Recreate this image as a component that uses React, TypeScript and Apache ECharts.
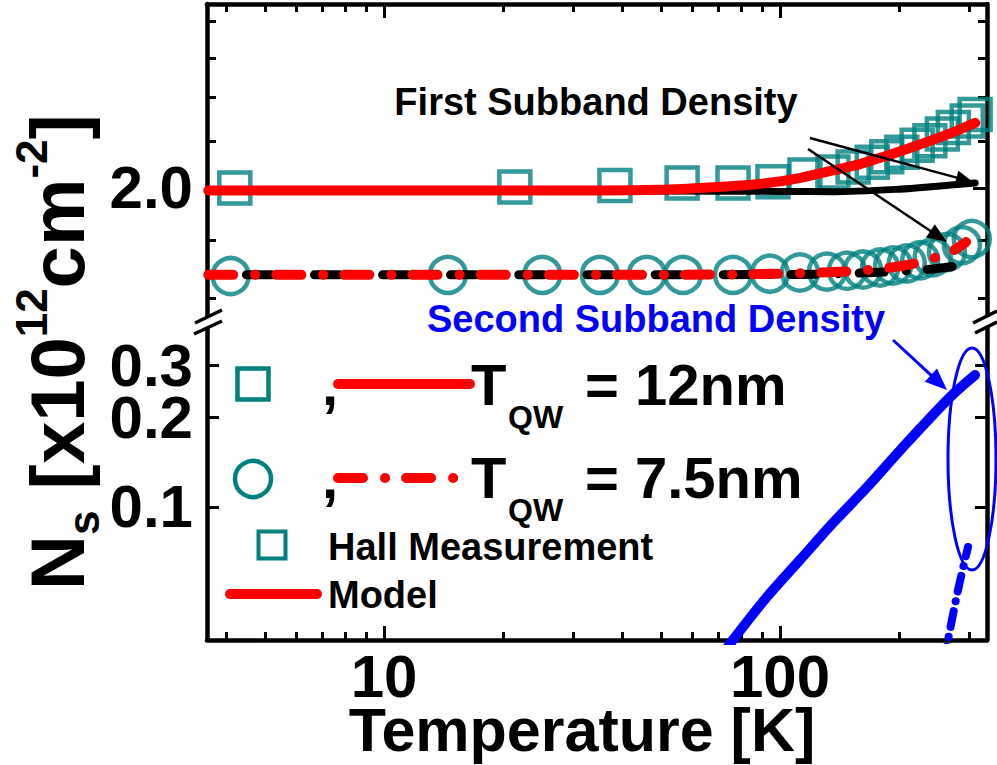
import React, { useEffect, useRef } from 'react';
import * as echarts from 'echarts';

const FONT = '"Liberation Sans", Arial, Helvetica, sans-serif';
const TEAL = '#008080';
const RED = '#ff0000';
const BLUE = '#0000ff';

// ---- Hall measurement, T_QW = 12 nm (squares) ----
const hallT12 = [4.2, 21.4, 38.3, 56.6, 76.1, 96, 115.6, 136, 153, 171, 186, 203, 222, 239, 257, 274, 297, 311];
const hallN12 = [2.0, 2.004, 2.01, 2.02, 2.02, 2.025, 2.053, 2.065, 2.086, 2.107, 2.13, 2.15, 2.18, 2.2, 2.23, 2.26, 2.29, 2.32];

// ---- Hall measurement, T_QW = 7.5 nm (circles) ----
const hallT75 = [4.1, 14.5, 25.1, 35.1, 46.1, 56.9, 76.1, 94.3, 112.3, 131.4, 147.6, 162, 179, 193, 209, 226, 243, 264, 288, 305];
const hallN75 = [1.674, 1.678, 1.678, 1.678, 1.678, 1.678, 1.678, 1.682, 1.686, 1.689, 1.692, 1.696, 1.703, 1.71, 1.717, 1.728, 1.739, 1.757, 1.782, 1.804];

// ---- Model, 12 nm total (red solid) ----
const modelT12 = [3.6, 10, 20, 35, 50, 63, 80, 93, 110, 136, 160, 182, 210, 243, 275, 311];
const modelN12 = [1.99, 1.99, 1.99, 1.99, 1.993, 2.0, 2.01, 2.02, 2.038, 2.072, 2.1, 2.129, 2.165, 2.204, 2.24, 2.281];

// ---- Model, 12 nm first subband (black solid) ----
const firstT12 = [3.6, 20, 50, 100, 136, 200, 250, 311];
const firstN12 = [1.99, 1.99, 1.988, 1.986, 1.985, 1.995, 2.007, 2.02];

// ---- Model, 7.5 nm total (red dash-dot) ----
const modelT75 = [3.6, 50, 100, 150, 193, 220, 243, 270, 295];
const modelN75 = [1.678, 1.678, 1.682, 1.69, 1.704, 1.718, 1.735, 1.757, 1.793];

// ---- Model, 7.5 nm first subband (black dash-dot) ----
const firstT75 = [3.6, 100, 150, 200, 250, 300];
const firstN75 = [1.678, 1.679, 1.683, 1.69, 1.7, 1.715];

// ---- Model, second subband (blue, lower panel) ----
const secondT12 = [70.6, 76.1, 92.7, 112.3, 136.1, 165.9, 201, 268.8, 310.7];
const secondN12 = [0.031, 0.0357, 0.0498, 0.0663, 0.0883, 0.1165, 0.155, 0.234, 0.2776];
const secondT75 = [259, 265.6, 281.5, 298.4];
const secondN75 = [0.03, 0.0357, 0.0525, 0.0733];

// ---- axes ----
const X_MIN = 3.573;
const X_MAX = 333.2;
const UP_MIN = 1.5256;
const UP_MAX = 2.9;
const LO_MIN = 0.03565;
const LO_MAX = 0.4188;
const xMajorTicks = [10, 100];
const xMinorTicks = [4, 5, 6, 7, 8, 9, 20, 30, 40, 50, 60, 70, 80, 90, 200, 300];
const upMajorTicks = [2.0];
const upMinorTicks = [1.6, 1.8, 2.2, 2.4, 2.6, 2.8];
const loTicksA = [0.1, 0.2];
const loTicksB = [0.3];

const pairs = (xs: number[], ys: number[]) => xs.map((x, i) => [x, ys[i]]);

const labelStyle = (size: number) => ({
  fontSize: size,
  fontWeight: 'bold' as const,
  fontFamily: FONT,
  color: '#000',
});

function xAx(gridIndex: number, position: string, ticks: number[], len: number, showLine: boolean, labels: boolean) {
  return {
    type: 'log',
    logBase: 10,
    gridIndex,
    position,
    min: X_MIN,
    max: X_MAX,
    axisLine: { show: showLine, lineStyle: { color: '#000', width: 4.5 } },
    axisTick: { show: true, inside: true, length: len, customValues: ticks, lineStyle: { color: '#000', width: 3 } },
    axisLabel: labels
      ? { show: true, hideOverlap: false, customValues: ticks, margin: 6, formatter: (v: number) => String(Math.round(v)), ...labelStyle(60) }
      : { show: false },
    splitLine: { show: false },
    minorTick: { show: false },
    minorSplitLine: { show: false },
  };
}

function yAx(gridIndex: number, position: string, min: number, max: number, ticks: number[], len: number, showLine: boolean, labels: boolean) {
  return {
    type: 'log',
    logBase: 10,
    gridIndex,
    position,
    min,
    max,
    axisLine: { show: showLine, lineStyle: { color: '#000', width: 4.5 } },
    axisTick: { show: true, inside: true, length: len, customValues: ticks, lineStyle: { color: '#000', width: 3 } },
    axisLabel: labels
      ? { show: true, hideOverlap: false, customValues: ticks, margin: 14, formatter: (v: number) => v.toFixed(1), ...labelStyle(60) }
      : { show: false },
    splitLine: { show: false },
    minorTick: { show: false },
    minorSplitLine: { show: false },
  };
}

function arrow(x1: number, y1: number, x2: number, y2: number, color: string, lw: number, hl: number, hw: number) {
  const dx = x2 - x1;
  const dy = y2 - y1;
  const L = Math.hypot(dx, dy);
  const ux = dx / L;
  const uy = dy / L;
  const bx = x2 - ux * hl;
  const by = y2 - uy * hl;
  return [
    { type: 'line', z: 100, shape: { x1, y1, x2: bx + ux * 2, y2: by + uy * 2 }, style: { stroke: color, lineWidth: lw } },
    {
      type: 'polygon',
      z: 100,
      shape: { points: [[x2, y2], [bx - uy * hw, by + ux * hw], [bx + uy * hw, by - ux * hw]] },
      style: { fill: color },
    },
  ];
}

// y of the "middle" anchor for a given alphabetic baseline
const mid = (baseline: number, size: number) => baseline - 0.3465 * size;

function txt(text: string, x: number, baseline: number, size: number, color = '#000', align = 'left') {
  return {
    type: 'text',
    z: 100,
    x,
    y: mid(baseline, size),
    style: {
      text,
      fill: color,
      fontSize: size,
      fontWeight: 'bold',
      fontFamily: FONT,
      align,
      verticalAlign: 'middle',
    },
  };
}

export default function App() {
  const ref = useRef<HTMLDivElement>(null);

  useEffect(() => {
    if (!ref.current) return;
    const chart = echarts.init(ref.current, null, { renderer: 'svg' });

    const lineSeries = (
      name: string,
      xi: number,
      yi: number,
      data: number[][],
      color: string,
      width: number,
      type: any,
      z: number,
      dashOffset = 0
    ) => ({
      name,
      type: 'line',
      xAxisIndex: xi,
      yAxisIndex: yi,
      data,
      showSymbol: false,
      symbol: 'none',
      smooth: 0.3,
      clip: true,
      z,
      lineStyle: { color, width, type, cap: 'round', join: 'round', dashOffset },
    });

    const graphics: any[] = [];

    // ---- legend block ----
    graphics.push({
      type: 'rect', z: 100,
      shape: { x: 253 - 15.5, y: 384 - 15.5, width: 31, height: 31 },
      style: { fill: 'none', stroke: TEAL, lineWidth: 4.5 },
    });
    graphics.push(txt(',', 322, 405, 58));
    graphics.push({
      type: 'line', z: 100,
      shape: { x1: 338, y1: 384, x2: 470, y2: 384 },
      style: { stroke: RED, lineWidth: 10, lineCap: 'round' },
    });
    graphics.push(txt('T', 471, 405, 58));
    graphics.push(txt('QW', 508, 428, 32));
    graphics.push(txt('= 12nm', 585, 405, 58));

    graphics.push({
      type: 'circle', z: 100,
      shape: { cx: 253, cy: 479, r: 18 },
      style: { fill: 'none', stroke: TEAL, lineWidth: 4.5 },
    });
    graphics.push(txt(',', 322, 498, 58));
    graphics.push({
      type: 'line', z: 100,
      shape: { x1: 338, y1: 478, x2: 453.5, y2: 478 },
      style: { stroke: RED, lineWidth: 10, lineCap: 'round', lineDash: [25, 22, 0.1, 21] },
    });
    graphics.push(txt('T', 471, 498, 58));
    graphics.push(txt('QW', 508, 521, 32));
    graphics.push(txt('= 7.5nm', 585, 498, 58));

    graphics.push({
      type: 'rect', z: 100,
      shape: { x: 272 - 13.5, y: 545 - 13.5, width: 27, height: 27 },
      style: { fill: 'none', stroke: TEAL, lineWidth: 4 },
    });
    graphics.push(txt('Hall Measurement', 328, 560, 38));
    graphics.push({
      type: 'line', z: 100,
      shape: { x1: 230, y1: 594, x2: 317, y2: 594 },
      style: { stroke: RED, lineWidth: 10, lineCap: 'round' },
    });
    graphics.push(txt('Model', 328, 608, 38));

    // ---- annotations ----
    graphics.push(txt('First Subband Density', 596, 115, 38, '#000', 'center'));
    graphics.push(...arrow(810, 138, 973, 182, '#000', 2.5, 17, 7));
    graphics.push(...arrow(808, 149, 947, 242, '#000', 2.5, 20, 8));
    graphics.push(txt('Second Subband Density', 656, 332, 38, BLUE, 'center'));
    graphics.push(...arrow(893, 340, 947, 390, BLUE, 3, 22, 9));
    graphics.push({
      type: 'ellipse', z: 100,
      shape: { cx: 972, cy: 459, rx: 24, ry: 111 },
      style: { fill: 'none', stroke: BLUE, lineWidth: 3 },
    });

    // ---- axis break marks ----
    graphics.push({ type: 'rect', z: 99, shape: { x: 201, y: 317.5, width: 12, height: 10 }, style: { fill: '#fff' } });
    graphics.push({ type: 'line', z: 100, shape: { x1: 195, y1: 323, x2: 222, y2: 310 }, style: { stroke: '#000', lineWidth: 3.5 } });
    graphics.push({ type: 'line', z: 100, shape: { x1: 194, y1: 334, x2: 222, y2: 321 }, style: { stroke: '#000', lineWidth: 3.5 } });
    graphics.push({ type: 'rect', z: 99, shape: { x: 981, y: 316.5, width: 12, height: 10 }, style: { fill: '#fff' } });
    graphics.push({ type: 'line', z: 100, shape: { x1: 973, y1: 323, x2: 997, y2: 311 }, style: { stroke: '#000', lineWidth: 3.5 } });
    graphics.push({ type: 'line', z: 100, shape: { x1: 975, y1: 333, x2: 997, y2: 322 }, style: { stroke: '#000', lineWidth: 3.5 } });

    // ---- axis titles ----
    graphics.push(txt('Temperature [K]', 582, 751, 61, '#000', 'center'));
    graphics.push({
      type: 'text',
      z: 100,
      x: 9,
      y: 352,
      rotation: Math.PI / 2,
      style: {
        text: '{b|N}{sub|s}{b| [x10}{sup|12}{b|cm}{sup|-2}{b|]}',
        align: 'center',
        verticalAlign: 'top',
        rich: {
          b: { fontSize: 76, fontWeight: 'bold', fontFamily: FONT, fill: '#000', lineHeight: 96 },
          sup: { fontSize: 44, fontWeight: 'bold', fontFamily: FONT, fill: '#000', verticalAlign: 'top' },
          sub: { fontSize: 44, fontWeight: 'bold', fontFamily: FONT, fill: '#000', verticalAlign: 'bottom', lineHeight: 60 },
        },
      },
    });

    const option: any = {
      animation: false,
      backgroundColor: '#fff',
      grid: [
        { left: 207, right: 10, top: 4, height: 318, containLabel: false, outerBoundsMode: 'none' },
        { left: 207, right: 10, top: 322, height: 318, containLabel: false, outerBoundsMode: 'none' },
      ],
      xAxis: [
        xAx(0, 'top', xMajorTicks, 14, true, false),
        xAx(0, 'top', xMinorTicks, 8, false, false),
        xAx(1, 'bottom', xMajorTicks, 14, true, true),
        xAx(1, 'bottom', xMinorTicks, 8, false, false),
      ],
      yAxis: [
        yAx(0, 'left', UP_MIN, UP_MAX, upMajorTicks, 15, true, true),
        yAx(0, 'left', UP_MIN, UP_MAX, upMinorTicks, 9, false, false),
        yAx(0, 'right', UP_MIN, UP_MAX, upMajorTicks, 14, true, false),
        yAx(0, 'right', UP_MIN, UP_MAX, upMinorTicks, 9, false, false),
        yAx(1, 'left', LO_MIN, LO_MAX, loTicksA, 12, true, true),
        yAx(1, 'right', LO_MIN, LO_MAX, loTicksA, 12, true, false),
        yAx(1, 'left', LO_MIN, LO_MAX, loTicksB, 12, false, true),
        yAx(1, 'right', LO_MIN, LO_MAX, loTicksB, 12, false, false),
      ],
      series: [
        {
          name: 'Hall 12nm',
          type: 'scatter',
          xAxisIndex: 0,
          yAxisIndex: 0,
          data: pairs(hallT12, hallN12),
          symbol: 'rect',
          symbolSize: 31,
          z: 2,
          itemStyle: { color: 'rgba(0,0,0,0)', borderColor: TEAL, borderWidth: 4.5 },
        },
        {
          name: 'Hall 7.5nm',
          type: 'scatter',
          xAxisIndex: 0,
          yAxisIndex: 0,
          data: pairs(hallT75, hallN75),
          symbol: 'circle',
          symbolSize: 36,
          z: 2,
          itemStyle: { color: 'rgba(0,0,0,0)', borderColor: TEAL, borderWidth: 4.5 },
        },
        lineSeries('First subband 12nm', 0, 0, pairs(firstT12, firstN12), '#000', 7, 'solid', 3),
        lineSeries('First subband 7.5nm', 0, 0, pairs(firstT75, firstN75), '#000', 9, [25, 22, 0.1, 21], 3, 30),
        lineSeries('Model 12nm', 0, 0, pairs(modelT12, modelN12), RED, 10, 'solid', 4),
        lineSeries('Model 7.5nm', 0, 0, pairs(modelT75, modelN75), RED, 10, [25, 22, 0.1, 21], 4),
        lineSeries('Second subband 12nm', 2, 4, pairs(secondT12, secondN12), BLUE, 10, 'solid', 4),
        lineSeries('Second subband 7.5nm', 2, 4, pairs(secondT75, secondN75), BLUE, 8, [16, 10, 0.1, 10], 4),
      ],
      graphic: { elements: graphics },
    };

    chart.setOption(option);
    return () => chart.dispose();
  }, []);

  return (
    <div
      ref={ref}
      style={{ position: 'absolute', left: 0, top: 0, width: 997, height: 765, background: '#fff' }}
    />
  );
}
